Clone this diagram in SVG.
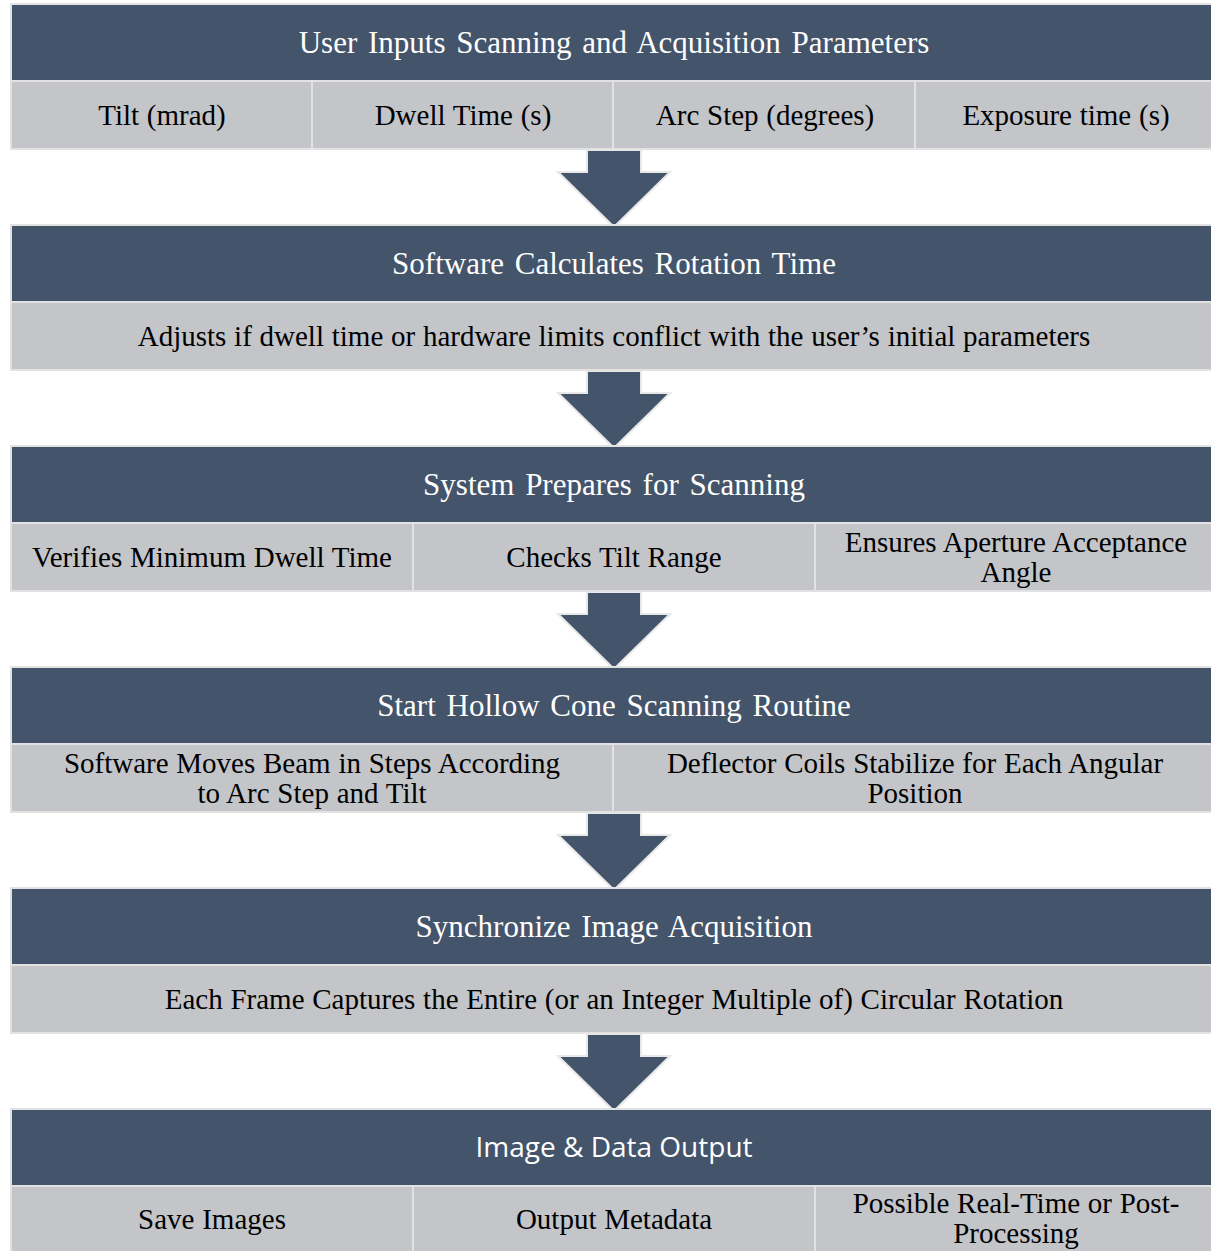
<svg xmlns="http://www.w3.org/2000/svg" width="1211" height="1251" viewBox="0 0 1211 1251">
<defs>
<style>
.hd{fill:#44546a;stroke:#e2e2e2;stroke-width:2}
.cl{fill:#c3c5c9;stroke:#e2e2e2;stroke-width:2}
.ar{fill:#44546a;stroke:#e8e8e8;stroke-width:2;stroke-linejoin:miter}
.ht{font-family:"Liberation Serif","Times New Roman",serif;font-size:31px;word-spacing:3px;fill:#ffffff;text-anchor:middle}
.hs{font-family:"Open Sans","Noto Sans",sans-serif;font-size:28px;fill:#ffffff;text-anchor:middle}
.ct{font-family:"Liberation Serif","Times New Roman",serif;font-size:29px;word-spacing:0.5px;fill:#000000;text-anchor:middle}
</style>
</defs>
<rect width="1211" height="1251" fill="#ffffff"/>
<g id="connectors">
<polygon class="ar" points="587,150 641,150 641,172 670,172 614,227 558,172 587,172"/>
<polygon class="ar" points="587,371 641,371 641,393 670,393 614,448 558,393 587,393"/>
<polygon class="ar" points="587,592 641,592 641,614 670,614 614,669 558,614 587,614"/>
<polygon class="ar" points="587,813 641,813 641,835 670,835 614,890 558,835 587,835"/>
<polygon class="ar" points="587,1034 641,1034 641,1056 670,1056 614,1111 558,1056 587,1056"/>
</g>
<g id="node1">
<rect class="hd" x="11" y="4" width="1202" height="77"/>
<text class="ht" x="614" y="53">User Inputs Scanning and Acquisition Parameters</text>
<rect class="cl" x="11" y="81" width="301" height="68"/>
<rect class="cl" x="312" y="81" width="301" height="68"/>
<rect class="cl" x="613" y="81" width="302" height="68"/>
<rect class="cl" x="915" y="81" width="298" height="68"/>
<text class="ct" x="162" y="125">Tilt (mrad)</text>
<text class="ct" x="463" y="125">Dwell Time (s)</text>
<text class="ct" x="765" y="125">Arc Step (degrees)</text>
<text class="ct" x="1066" y="125">Exposure time (s)</text>
</g>
<g id="node2">
<rect class="hd" x="11" y="225" width="1202" height="77"/>
<text class="ht" x="614" y="274">Software Calculates Rotation Time</text>
<rect class="cl" x="11" y="302" width="1202" height="68"/>
<text class="ct" x="614" y="346">Adjusts if dwell time or hardware limits conflict with the user’s initial parameters</text>
</g>
<g id="node3">
<rect class="hd" x="11" y="446" width="1202" height="77"/>
<text class="ht" x="614" y="495">System Prepares for Scanning</text>
<rect class="cl" x="11" y="523" width="402" height="68"/>
<rect class="cl" x="413" y="523" width="402" height="68"/>
<rect class="cl" x="815" y="523" width="398" height="68"/>
<text class="ct" x="212" y="567">Verifies Minimum Dwell Time</text>
<text class="ct" x="614" y="567">Checks Tilt Range</text>
<text class="ct" x="1016" y="552">Ensures Aperture Acceptance</text>
<text class="ct" x="1016" y="582">Angle</text>
</g>
<g id="node4">
<rect class="hd" x="11" y="667" width="1202" height="77"/>
<text class="ht" x="614" y="716">Start Hollow Cone Scanning Routine</text>
<rect class="cl" x="11" y="744" width="602" height="68"/>
<rect class="cl" x="613" y="744" width="600" height="68"/>
<text class="ct" x="312" y="773">Software Moves Beam in Steps According</text>
<text class="ct" x="312" y="803">to Arc Step and Tilt</text>
<text class="ct" x="915" y="773">Deflector Coils Stabilize for Each Angular</text>
<text class="ct" x="915" y="803">Position</text>
</g>
<g id="node5">
<rect class="hd" x="11" y="888" width="1202" height="77"/>
<text class="ht" x="614" y="937">Synchronize Image Acquisition</text>
<rect class="cl" x="11" y="965" width="1202" height="68"/>
<text class="ct" x="614" y="1009">Each Frame Captures the Entire (or an Integer Multiple of) Circular Rotation</text>
</g>
<g id="node6">
<rect class="hd" x="11" y="1109" width="1202" height="77"/>
<text class="hs" x="614" y="1157">Image &amp; Data Output</text>
<rect class="cl" x="11" y="1186" width="402" height="68"/>
<rect class="cl" x="413" y="1186" width="402" height="68"/>
<rect class="cl" x="815" y="1186" width="398" height="68"/>
<text class="ct" x="212" y="1229">Save Images</text>
<text class="ct" x="614" y="1229">Output Metadata</text>
<text class="ct" x="1016" y="1213">Possible Real-Time or Post-</text>
<text class="ct" x="1016" y="1243">Processing</text>
</g>
</svg>
